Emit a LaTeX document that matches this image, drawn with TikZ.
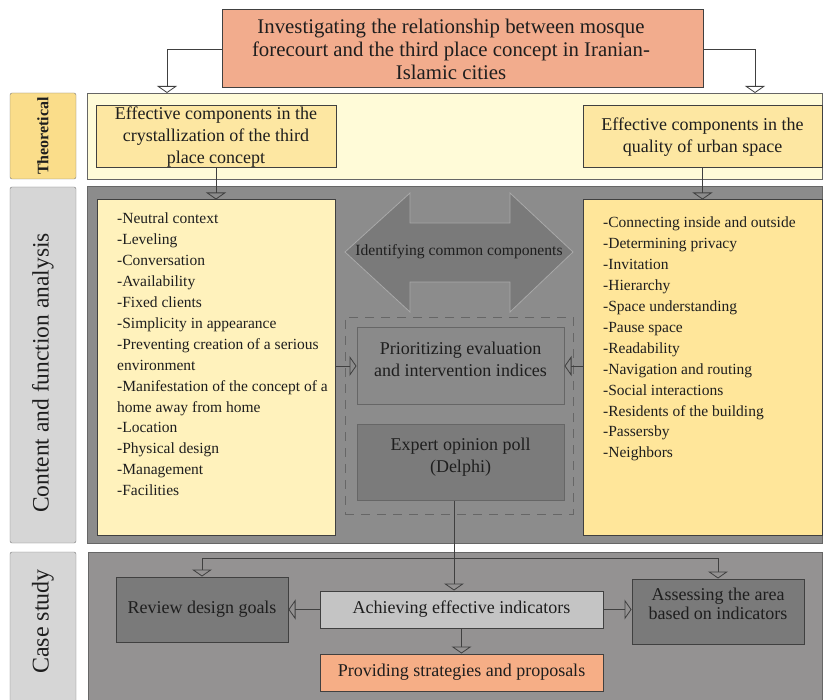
\documentclass[tikz,border=0pt]{standalone}
\usepackage{fontspec}
\setmainfont{Liberation Serif}
\usetikzlibrary{arrows.meta}

\definecolor{titlefill}{RGB}{242,172,141}
\definecolor{theolabel}{RGB}{250,221,138}
\definecolor{theoband}{RGB}{255,251,216}
\definecolor{theobox}{RGB}{253,231,162}
\definecolor{greylabel}{RGB}{214,214,214}
\definecolor{contband}{RGB}{140,140,140}
\definecolor{listA}{RGB}{255,242,188}
\definecolor{listB}{RGB}{255,230,154}
\definecolor{arrowfill}{RGB}{122,122,122}
\definecolor{priofill}{RGB}{138,138,138}
\definecolor{expertfill}{RGB}{123,123,123}
\definecolor{caseband}{RGB}{148,146,146}
\definecolor{darkbox}{RGB}{122,122,122}
\definecolor{lightbox}{RGB}{196,196,196}
\definecolor{providefill}{RGB}{246,174,134}
\definecolor{edge}{RGB}{64,64,64}
\definecolor{ink}{RGB}{30,30,30}

\begin{document}
\begin{tikzpicture}[x=1pt,y=-1pt,
  band/.style={draw=edge!80,line width=0.8pt,inner sep=0pt},
  sidelabel/.style={draw=edge!70,rounded corners=2pt,rotate=90,inner sep=0pt,text=ink},
  box/.style={draw=edge,line width=1pt,inner sep=0pt,align=center,text=ink,
    font=\fontsize{18}{21.7}\selectfont},
  listtext/.style={inner sep=0pt,align=left,anchor=north west,text=ink,
    font=\fontsize{15.5}{20.9}\selectfont},
  conn/.style={draw=edge,line width=0.8pt,-{Triangle[open,width=20pt,length=7pt]}}]

  \useasboundingbox (0,0) rectangle (824,700);
  \clip (0,0) rectangle (824,700);

  % rows
  \node[band,fill=theoband,minimum width=735pt,minimum height=86pt] (theoband) at (454.5,136) {};
  \node[band,fill=contband,minimum width=735pt,minimum height=357pt] (contband) at (454.5,364.5) {};
  \node[band,fill=caseband,minimum width=734pt,minimum height=153pt] (caseband) at (455,628.5) {};

  \node[sidelabel,fill=theolabel,minimum width=86pt,minimum height=66pt,
    font=\fontsize{16}{18}\selectfont\bfseries] (theolab) at (43,136) {Theoretical};
  \node[sidelabel,fill=greylabel,minimum width=356pt,minimum height=66pt,
    font=\fontsize{23.5}{26}\selectfont] (contlab) at (43,365) {Content and function analysis\hspace*{16pt}};
  \node[sidelabel,fill=greylabel,minimum width=153pt,minimum height=66pt,
    font=\fontsize{24}{26}\selectfont] (caselab) at (43,628.5) {\hspace*{14pt}Case study};

  % theory
  \node[box,fill=titlefill,minimum width=481pt,minimum height=78pt] (title) at (462.5,49) {};
  \node[align=center,inner sep=0pt,text=ink,font=\fontsize{20.8}{23}\selectfont] (titletext) at (451,49)
    {Investigating the relationship between mosque\\forecourt and the third place concept in Iranian-\\Islamic cities};
  \node[box,fill=theobox,minimum width=240pt,minimum height=62pt] (thA) at (216,137)
    {Effective components in the\\crystallization of the third\\place concept};
  \node[box,fill=theobox,minimum width=239pt,minimum height=62pt] (thB) at (702.5,137)
    {Effective components in the\\quality of urban space};

  \coordinate (tl) at (167,93);
  \coordinate (tr) at (755,93);
  \draw[conn] (title.west) -| (tl);
  \draw[conn] (title.east) -| (tr);

  % analysis
  \node[box,fill=listA,minimum width=238pt,minimum height=335pt] (listA) at (216,367.5) {};
  \node[box,fill=listB,minimum width=239pt,minimum height=335pt] (listB) at (702.5,367.5) {};
  \node[listtext] (textA) at (117,213) {-Neutral context\\-Leveling\\-Conversation\\-Availability\\-Fixed clients\\-Simplicity in appearance\\-Preventing creation of a serious\\environment\\-Manifestation of the concept of a\\home away from home\\-Location\\-Physical design\\-Management\\-Facilities};
  \node[listtext] (textB) at (603,217) {-Connecting inside and outside\\-Determining privacy\\-Invitation\\-Hierarchy\\-Space understanding\\-Pause space\\-Readability\\-Navigation and routing\\-Social interactions\\-Residents of the building\\-Passersby\\-Neighbors};

  \draw[conn] (thA.south) -- (listA.north);
  \draw[conn] (thB.south) -- (listB.north);

  \fill[arrowfill,draw=edge!45,line width=0.8pt] (345,252) -- (410,193) -- (410,223) -- (510,223)
    -- (510,193) -- (573,252) -- (510,312) -- (510,282) -- (410,282) -- (410,312) -- cycle;
  \node[text=ink,font=\fontsize{15.6}{18}\selectfont] (ident) at (459,252) {Identifying common components};

  \node[draw=edge!80,dashed,dash pattern=on 9pt off 7pt,line width=0.8pt,
    minimum width=228pt,minimum height=197pt] (dbox) at (459,415.5) {};
  \node[box,draw=edge!80,fill=priofill,minimum width=207pt,minimum height=76pt,text depth=14pt] (prio) at (460.5,366)
    {Prioritizing evaluation\\and intervention indices};
  \node[box,draw=edge!80,fill=expertfill,minimum width=207pt,minimum height=76pt,text depth=14pt] (expert) at (460.5,462)
    {Expert opinion poll\\(Delphi)};

  \draw[conn] (listA.east |- prio.west) -- (prio.west);
  \draw[conn] (listB.west |- prio.east) -- (prio.east);

  % case study
  \node[box,fill=darkbox,minimum width=172pt,minimum height=65pt] (review) at (202,609.5)
    {Review design goals};
  \node[box,fill=darkbox,minimum width=172pt,minimum height=65pt,text depth=15pt,
    font=\fontsize{18}{19}\selectfont] (assess) at (718,611.5)
    {Assessing the area\\based on indicators};
  \node[box,fill=lightbox,minimum width=283pt,minimum height=37pt] (achieve) at (461.5,609.5)
    {Achieving effective indicators};
  \node[box,fill=providefill,minimum width=283pt,minimum height=37pt] (provide) at (461.5,672.5)
    {Providing strategies and proposals};

  \coordinate (trunk) at (454,558);
  \draw[conn] (expert.south -| trunk) -- (achieve.north -| trunk);
  \draw[conn] (trunk) -| (review.north);
  \draw[conn] (trunk) -| (assess.north);
  \draw[conn] (achieve.west) -- (review.east);
  \draw[conn] (achieve.east) -- (achieve.east -| assess.west);
  \draw[conn] (achieve.south) -- (provide.north);
\end{tikzpicture}
\end{document}
